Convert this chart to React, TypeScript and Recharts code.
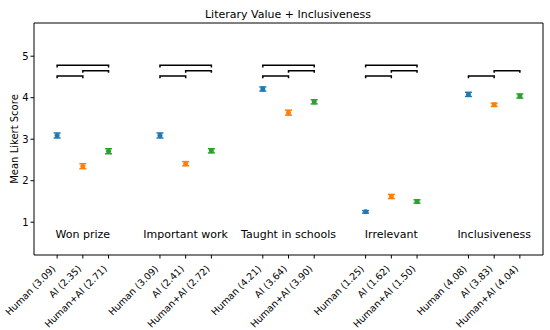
import React from 'react'
import { ComposedChart, Scatter, XAxis, YAxis, ErrorBar, ReferenceLine } from 'recharts'

const categories = ['Won prize', 'Important work', 'Taught in schools', 'Irrelevant', 'Inclusiveness']
const conditions = ['Human', 'AI', 'Human+AI']
const colors = ['#1f77b4', '#ff7f0e', '#2ca02c']

const humanMeans = [3.09, 3.09, 4.21, 1.25, 4.08]
const aiMeans = [2.35, 2.41, 3.64, 1.62, 3.83]
const hybridMeans = [2.71, 2.72, 3.9, 1.5, 4.04]

const humanErr = [0.06, 0.06, 0.05, 0.03, 0.05]
const aiErr = [0.06, 0.05, 0.06, 0.05, 0.04]
const hybridErr = [0.06, 0.05, 0.05, 0.04, 0.05]

// significance brackets: pair of conditions, height, how many drawn per category
const bracketPairs = [[0, 1], [1, 2], [0, 2]]
const bracketLevels = [4.52, 4.65, 4.78]
const bracketCounts = [3, 3, 3, 3, 2]
const bracketDrop = 0.05

const yTicks = [1, 2, 3, 4, 5]
const groupLabelY = 0.7
const groupGap = 4

const W = 550
const H = 330
const FONT = '"DejaVu Sans", sans-serif'

const seriesMeans = [humanMeans, aiMeans, hybridMeans]
const seriesErr = [humanErr, aiErr, hybridErr]

const pos = (g: number, c: number) => g * groupGap + c

const series = conditions.map((_, c) =>
  categories.map((_, g) => ({ x: pos(g, c), y: seriesMeans[c][g], err: seriesErr[c][g] }))
)

const tickPositions: number[] = []
const tickLabels: Record<number, string> = {}
categories.forEach((_, g) => {
  conditions.forEach((cond, c) => {
    tickPositions.push(pos(g, c))
    tickLabels[pos(g, c)] = `${cond} (${seriesMeans[c][g].toFixed(2)})`
  })
})

const brackets: { x: number; y: number }[][] = []
categories.forEach((_, g) => {
  for (let i = 0; i < bracketCounts[g]; i++) {
    const [a, b] = bracketPairs[i]
    const h = bracketLevels[i]
    brackets.push([
      { x: pos(g, a), y: h - bracketDrop },
      { x: pos(g, a), y: h },
      { x: pos(g, b), y: h },
      { x: pos(g, b), y: h - bracketDrop },
    ])
  }
})

const groupLabels = categories.map((name, g) => ({ x: pos(g, 1), y: groupLabelY, name }))

const xDomain = [-0.9, 18.9]
const yDomain = [0.21, 5.8]

const RotatedTick = (props: any) => {
  const { x, y, payload } = props
  return (
    <g transform={`translate(${x - 1},${y + 9})`}>
      <text transform="rotate(-45)" textAnchor="end" fontSize={9.5} fontFamily={FONT} fill="#000">
        {tickLabels[payload.value]}
      </text>
    </g>
  )
}

const Dot = (props: any) => {
  const { cx, cy, fill } = props
  return <circle cx={cx} cy={cy} r={2.5} fill={fill} />
}

const GroupLabel = (props: any) => {
  const { cx, cy, payload } = props
  return (
    <text x={cx} y={cy} textAnchor="middle" dominantBaseline="central" fontSize={11} fontFamily={FONT} fill="#000">
      {payload.name}
    </text>
  )
}

export default function App() {
  return (
    <div style={{ position: 'absolute', left: 0, top: 0, width: W, height: H, background: '#fff' }}>
      <ComposedChart width={W} height={H} margin={{ top: 23, right: 7, left: 0, bottom: 0 }}>
        <text x={288} y={14} textAnchor="middle" dominantBaseline="central" fontSize={11} fontFamily={FONT} fill="#000">
          Literary Value + Inclusiveness
        </text>
        <XAxis
          type="number"
          dataKey="x"
          domain={xDomain}
          ticks={tickPositions}
          interval={0}
          height={75}
          allowDataOverflow
          tickSize={3.5}
          tickLine={{ stroke: '#000' }}
          axisLine={{ stroke: '#000' }}
          tick={<RotatedTick />}
        />
        <YAxis
          type="number"
          dataKey="y"
          domain={yDomain}
          ticks={yTicks}
          width={34}
          allowDataOverflow
          tickSize={3.5}
          tickMargin={2}
          tickLine={{ stroke: '#000' }}
          axisLine={{ stroke: '#000' }}
          tick={{ fontSize: 10, fontFamily: FONT, fill: '#000' }}
          label={{
            value: 'Mean Likert Score',
            angle: -90,
            position: 'insideLeft',
            offset: 14,
            style: { fontSize: 10, fontFamily: FONT, fill: '#000', textAnchor: 'middle' },
          }}
        />
        <ReferenceLine y={yDomain[1]} stroke="#000" ifOverflow="extendDomain" />
        <ReferenceLine x={xDomain[1]} stroke="#000" ifOverflow="extendDomain" />
        {brackets.map((pts, i) => (
          <Scatter
            key={`b${i}`}
            data={pts}
            line={{ stroke: '#000', strokeWidth: 1.5 }}
            lineType="joint"
            shape={() => null}
            isAnimationActive={false}
          />
        ))}
        {series.map((data, c) => (
          <Scatter key={conditions[c]} data={data} fill={colors[c]} shape={<Dot />} isAnimationActive={false}>
            <ErrorBar dataKey="err" direction="y" width={3.5} stroke={colors[c]} strokeWidth={1.5} isAnimationActive={false} />
          </Scatter>
        ))}
        <Scatter data={groupLabels} shape={<GroupLabel />} isAnimationActive={false} />
      </ComposedChart>
    </div>
  )
}
